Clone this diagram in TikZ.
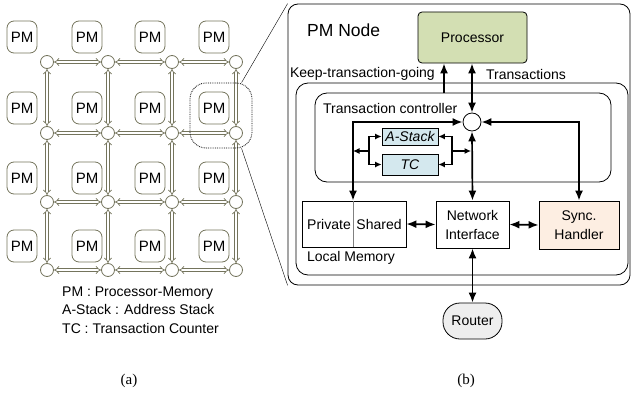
\documentclass[tikz,border=0pt]{standalone}
\usepackage{fontspec}
\setmainfont{Liberation Sans}
\newfontfamily\capfont{Liberation Serif}
\usepackage{tikz}
\usetikzlibrary{arrows.meta}
\usetikzlibrary{positioning}
\usetikzlibrary{calc}
\definecolor{linkgray}{HTML}{74745C}
\definecolor{procgreen}{HTML}{D3DFB3}
\definecolor{stackblue}{HTML}{D4E8EE}
\definecolor{syncpeach}{HTML}{FDEEE2}
\definecolor{routergray}{HTML}{EEEEEE}
\tikzstyle{pm}=[draw=linkgray,line width=0.8pt,rounded corners=7pt,minimum width=30pt,minimum height=32pt,inner sep=0pt,font=\fontsize{15}{17}\selectfont]
\tikzstyle{rnode}=[circle,draw=linkgray,line width=0.8pt,fill=white,minimum size=13pt,inner sep=0pt]
\tikzstyle{link}=[draw=linkgray,double=white,double distance=2pt,line width=0.7pt,{Implies}-{Implies}]
\tikzstyle{zoombox}=[draw,densely dotted,line width=0.8pt,rounded corners=16pt,minimum width=62pt,minimum height=65pt]
\tikzstyle{block}=[draw,line width=0.8pt,inner sep=0pt,align=center,font=\fontsize{14}{19}\selectfont]
\tikzstyle{frame}=[draw,line width=0.8pt,inner sep=0pt]
\tikzstyle{label}=[inner sep=0pt,font=\fontsize{14}{16}\selectfont]
\tikzstyle{bus}=[draw,line width=1.7pt,{Latex[length=10pt,width=8pt]}-{Latex[length=10pt,width=8pt]}]
\tikzstyle{upbus}=[draw,line width=1.7pt,-{Latex[length=10pt,width=8pt]}]
\tikzstyle{thinbus}=[draw,line width=1.1pt,{Latex[length=6.5pt,width=6pt]}-{Latex[length=6.5pt,width=6pt]}]
\tikzstyle{thinarrow}=[draw,line width=1.1pt,-{Latex[length=6.5pt,width=6pt]}]

\begin{document}
\begin{tikzpicture}[x=1pt,y=-1pt]
    \useasboundingbox (0,0) rectangle (631,396);

    % (a) mesh of PM nodes
    \foreach \i/\y in {1/37,2/108,3/178,4/246}
        \foreach \j/\x in {1/22,2/87,3/150,4/214}
            \node[pm] (pm-\i-\j) at (\x,\y) {PM};

    \foreach \i/\y in {1/62,2/133,3/202,4/270}
        \foreach \j/\x in {1/47,2/108,3/172,4/236}
            \node[rnode] (r-\i-\j) at (\x,\y) {};

    \foreach \i in {1,...,4}
        \foreach \j/\k in {1/2,2/3,3/4}
            \draw[link] (r-\i-\j) -- (r-\i-\k);

    \foreach \i/\k in {1/2,2/3,3/4}
        \foreach \j in {1,...,4}
            \draw[link] (r-\i-\j) -- (r-\k-\j);

    \node[zoombox] (zm) at (221,115.5) {};

    \node[label,anchor=west,align=left,font=\fontsize{14}{18.5}\selectfont] (legend) at (62,310)
        {PM : Processor-Memory\\A-Stack : Address Stack\\TC : Transaction Counter};

    % (b) one PM node
    \node[frame,rounded corners=10pt,minimum width=342pt,minimum height=281pt] (pmnode) at (459,144.5) {};
    \node[frame,rounded corners=12pt,minimum width=332pt,minimum height=192pt] (nodebox) at (462,179) {};
    \node[frame,rounded corners=12pt,minimum width=296pt,minimum height=89pt] (ctrl) at (463,137.5) {};

    \draw[thin] (zm.58) -- (pmnode.north west);
    \draw[thin] (zm.-58) -- (pmnode.south west);

    \node[label,anchor=west,font=\fontsize{17.5}{20}\selectfont] (title) at (307,30) {PM Node};
    \node[block,fill=procgreen,rounded corners=4pt,minimum width=109pt,minimum height=51pt] (proc) at (472.5,37.5) {Processor};
    \node[label,anchor=east] (keep) at (435,74) {Keep-transaction-going};
    \node[label,anchor=west] (trans) at (486,74) {Transactions};
    \node[label,anchor=west] (ctrltext) at (323,108) {Transaction controller};

    \node[circle,draw,line width=0.8pt,minimum size=18pt,inner sep=0pt] (junc) at (472,122) {};
    \node[block,fill=stackblue,minimum width=56pt,minimum height=17pt,font=\fontsize{14}{16}\selectfont\itshape] (astack) at (410,136.5) {A-Stack};
    \node[block,fill=stackblue,minimum width=56pt,minimum height=21pt,font=\fontsize{14}{16}\selectfont\itshape] (tc) at (410,164.5) {TC};

    \node[block,minimum width=104pt,minimum height=46pt] (lmem) at (354,224) {};
    \node[label] (private) at (329,224) {Private};
    \node[label] (shared) at (379,224) {Shared};
    \node[label] (lmemtext) at (351,258) {Local Memory};
    \node[block,minimum width=73pt,minimum height=47pt] (ni) at (472.5,224.5) {Network\\Interface};
    \node[block,fill=syncpeach,minimum width=80pt,minimum height=48pt] (sync) at (579,225) {Sync.\\Handler};
    \node[block,fill=routergray,rounded corners=17pt,minimum width=59pt,minimum height=36pt] (router) at (472.5,321) {Router};

    \coordinate (kp) at (444,93);
    \coordinate (lc) at (353,122);
    \coordinate (rc) at (579,122);
    \coordinate (lb) at (369,151);
    \coordinate (rb) at (452,151);

    \draw[gray,line width=0.8pt] (lmem.north -| lc) -- (lmem.south -| lc);

    \path[upbus] (kp) -- (kp |- proc.south);
    \path[bus] (proc.south -| junc) -- (junc.north);
    \path[bus] (junc.south) -- (ni.north);
    \path[bus] (lmem.north -| lc) -- (lc) -- (junc.west);
    \path[bus] (junc.east) -- (rc) -- (sync.north);
    \path[thinbus] (astack.west) -| (lb) |- (tc.west);
    \path[thinbus] (astack.east) -| (rb) |- (tc.east);
    \path[thinarrow] (lb) -- (lb -| lc);
    \path[thinarrow] (rb) -- ($(rb -| junc)+(-1,0)$);
    \path[bus] (lmem.east) -- (ni.west);
    \path[bus] (ni.east) -- (sync.west);
    \path[bus] (ni.south) -- (router.north);

    \node[label,font=\capfont\fontsize{15}{17}\selectfont] (capa) at (129,381) {(a)};
    \node[label,font=\capfont\fontsize{15}{17}\selectfont] (capb) at (466,381) {(b)};
\end{tikzpicture}
\end{document}
